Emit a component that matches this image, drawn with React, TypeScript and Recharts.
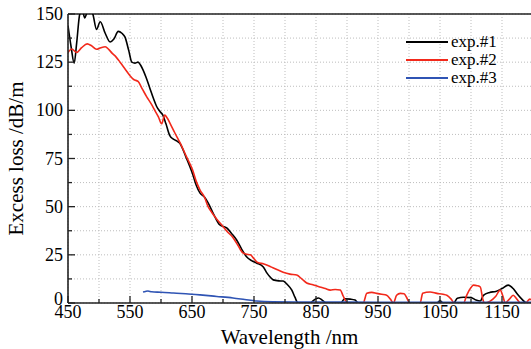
import { LineChart, Line, XAxis, YAxis, CartesianGrid, ReferenceLine, Label } from 'recharts';

const wl1 = [450, 455, 460, 464, 469, 473, 477, 481, 485, 490, 496, 502, 510, 518, 524, 531, 537, 542, 548, 553, 558, 563, 567, 571, 576, 582, 588, 593, 598, 603, 608, 614, 620, 626, 630, 640, 651, 657, 663, 670, 676, 685, 695, 706, 714, 722, 730, 738, 746, 754, 765, 771, 776, 781, 790, 797, 804, 811, 816, 821, 840, 848, 854, 860, 866, 890, 896, 905, 913, 918, 1045, 1050, 1055, 1072, 1078, 1088, 1100, 1108, 1115, 1120, 1130, 1140, 1150, 1160, 1168, 1175, 1182, 1190, 1200];
const loss1 = [144, 133, 124.5, 135, 150, 152, 148, 151, 152, 150, 142, 146, 140, 135.5, 137, 141, 140, 138, 131, 125, 124.5, 125, 123.5, 121, 117, 111.5, 106, 102, 99.5, 97.5, 93, 87, 85, 84, 83, 76, 67, 61, 57, 55, 52, 46, 40.5, 39, 36, 32.7, 28, 24, 22, 20.8, 18.7, 15.5, 13.5, 12, 11.5, 11.4, 9.5, 6.7, 3, 0, 0, 1.8, 2.6, 1.5, 0, 0, 2.2, 2, 1.5, 0, 0, 1.2, 0, 0, 2.5, 3, 2.8, 1.5, 1, 4, 5.5, 6, 7.5, 9.3, 7.5, 4.5, 2, 0, 0];

const wl2 = [450, 456, 464, 472, 481, 488, 496, 503, 510, 516, 521, 528, 534, 542, 550, 556, 563, 570, 577, 584, 590, 596, 601, 606, 610, 615, 622, 631, 641, 651, 657, 663, 670, 676, 682, 690, 698, 707, 716, 724, 732, 738, 744, 750, 756, 766, 776, 786, 797, 808, 819, 827, 835, 845, 856, 865, 873, 881, 889, 894, 897, 902, 926, 932, 940, 948, 956, 964, 970, 975, 980, 986, 992, 996, 1001, 1018, 1022, 1034, 1045, 1055, 1061, 1068, 1073, 1088, 1093, 1100, 1104, 1110, 1115, 1119, 1122, 1131, 1140, 1147, 1152, 1155, 1162, 1168, 1174, 1180, 1188, 1195, 1200];
const loss2 = [130, 131.8, 130, 132.5, 134.5, 133.5, 131.7, 132.5, 133, 131.5, 129.7, 127.5, 125, 121.5, 118, 116, 115, 111, 107, 103.5, 100, 96.5, 93, 97.5, 96, 93, 88.5, 83, 76, 69, 63, 58.6, 55, 50, 47, 43.5, 40.5, 37, 34, 30, 26, 25.3, 25, 23, 21, 20.3, 19, 17.5, 16, 15, 14.5, 12.5, 10.4, 9.5, 8.3, 7.5, 6.7, 7, 6.7, 3.5, 1.5, 0, 0, 5, 5.5, 5, 4.5, 4, 2, 0, 4, 5, 4.8, 3, 0, 0, 5, 5.7, 5, 4.5, 4, 2, 0, 0, 4, 8, 9.3, 9, 8.3, 2, 0, 1, 3.5, 6.7, 3, 0, 2, 4, 2, 0, 0, 2, 1];

const wl3 = [571, 575, 579, 585, 600, 620, 640, 663, 690, 716, 735, 754, 780, 850, 950, 1050, 1200];
const loss3 = [5.7, 6, 6.2, 5.8, 5.6, 5.2, 4.8, 4.2, 3.4, 2.6, 1.8, 1, 0.6, 0.5, 0.4, 0.3, 0.3];

const seriesNames = ['exp.#1', 'exp.#2', 'exp.#3'];
const seriesColors = ['#000000', '#f2291b', '#2f54b4'];

const xTicks = [450, 500, 550, 600, 650, 700, 750, 800, 850, 900, 950, 1000, 1050, 1100, 1150, 1200];
const xLabels = [450, 550, 650, 750, 850, 950, 1050, 1150];
const yTicks = [0, 12.5, 25, 37.5, 50, 62.5, 75, 87.5, 100, 112.5, 125, 137.5, 150];
const yLabels = [0, 25, 50, 75, 100, 125, 150];

const toPoints = (xs: number[], ys: number[]) => xs.map((x, i) => ({ x, y: ys[i] }));
const series = [toPoints(wl1, loss1), toPoints(wl2, loss2), toPoints(wl3, loss3)];

const font = '"Liberation Serif", "Times New Roman", serif';

const XTick = (props: any) => {
  const { x, y, payload } = props;
  const major = xLabels.includes(payload.value);
  return (
    <g>
      <line x1={x} x2={x} y1={y} y2={y - (major ? 7 : 4)} stroke="#222" strokeWidth={1.3} />
      {major && (
        <text x={x} y={y + 15} textAnchor="middle" fontFamily={font} fontSize={18} fill="#000">
          {payload.value}
        </text>
      )}
    </g>
  );
};

const YTick = (props: any) => {
  const { x, y, payload } = props;
  const major = yLabels.includes(payload.value);
  return (
    <g>
      <line x1={x} x2={x + (major ? 7 : 4)} y1={y} y2={y} stroke="#222" strokeWidth={1.3} />
      {major && (
        <text x={x - 5} y={y + (payload.value === 0 ? 2 : 6)} textAnchor="end" fontFamily={font} fontSize={18} fill="#000">
          {payload.value}
        </text>
      )}
    </g>
  );
};

export default function App() {
  return (
    <div style={{ position: 'absolute', left: 0, top: 0, width: 531, height: 349, overflow: 'hidden', background: '#fff' }}>
      <LineChart width={540} height={349} margin={{ top: 14, right: 7, bottom: 0, left: 0 }}>
        <CartesianGrid stroke="#bdbdbd" strokeDasharray="1 2" />
        <XAxis
          type="number"
          dataKey="x"
          domain={[450, 1200]}
          ticks={xTicks}
          interval={0}
          tick={<XTick />}
          tickSize={0}
          tickMargin={0}
          tickLine={false}
          axisLine={{ stroke: '#222', strokeWidth: 1.6 }}
          height={46}
          allowDataOverflow
        >
          <Label value="Wavelength /nm" position="insideBottom" offset={5} dx={-11} style={{ fontFamily: font, fontSize: 21, fill: '#000' }} />
        </XAxis>
        <YAxis
          type="number"
          domain={[0, 150]}
          ticks={yTicks}
          interval={0}
          tick={<YTick />}
          tickSize={0}
          tickMargin={0}
          tickLine={false}
          axisLine={{ stroke: '#222', strokeWidth: 1.6 }}
          width={68}
          allowDataOverflow
        >
          <Label value="Excess loss /dB/m" angle={-90} position="insideLeft" offset={0} dx={16} style={{ fontFamily: font, fontSize: 21, fill: '#000', textAnchor: 'middle' }} />
        </YAxis>
        <ReferenceLine y={150} stroke="#222" strokeWidth={1.6} />
        {series.map((d, i) => (
          <Line
            key={seriesNames[i]}
            data={d}
            dataKey="y"
            name={seriesNames[i]}
            type="monotone"
            stroke={seriesColors[i]}
            strokeWidth={1.6}
            dot={false}
            isAnimationActive={false}
          />
        ))}
      </LineChart>
      <div style={{ position: 'absolute', left: 406, top: 33, fontFamily: font, fontSize: 17, color: '#000', lineHeight: '18px' }}>
        {seriesNames.map((n, i) => (
          <div key={n} style={{ display: 'flex', alignItems: 'center', height: 18 }}>
            <span style={{ display: 'inline-block', width: 42, height: 2, background: seriesColors[i], marginRight: 3 }} />
            <span style={{ lineHeight: '18px' }}>{n}</span>
          </div>
        ))}
      </div>
    </div>
  );
}
